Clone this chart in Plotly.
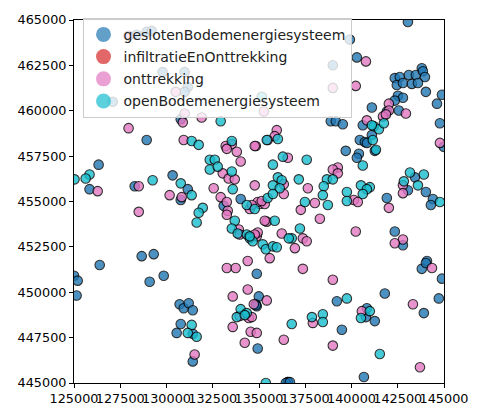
import plotly.graph_objects as go

categories = ["geslotenBodemenergiesysteem", "infiltratieEnOnttrekking", "onttrekking", "openBodemenergiesysteem"]
colors = ["#1f77b4", "#d62728", "#e377c2", "#17becf"]

gesloten_x = [128390, 128930, 129200, 129790, 130980, 131150, 130980, 127090, 139910, 140290, 138990,
              130770, 128930, 143050, 142340, 142610, 143100, 143480, 143800, 143860, 143970, 142450,
              142780, 143260, 143590, 144020, 144890, 144620, 142510, 142780, 142340, 141100, 141910,
              142560, 138880, 139150, 139530, 140610, 144780, 141100, 140450, 140720, 140830, 139690,
              140400, 140290, 141260, 144990, 141910, 143430, 143050, 144020, 144400, 144290, 142340,
              142780, 144080, 143800, 144020, 144890, 144720, 143910, 141800, 140830, 140780, 141260,
              139480, 139210, 140670,
              126330, 125840, 128280, 130330, 131150, 130770, 126390, 128660, 129310, 125000, 125200,
              125140, 129090, 129850, 130710, 130930, 131200, 131420, 130770, 130550, 131420, 131420,
              134010, 133090, 134880, 134990, 134830, 134880, 134930, 136560, 136450, 136670, 134830]
gesloten_y = [464190, 464350, 464400, 462130, 462130, 461310, 461040, 460500, 463920, 462940, 462510,
              459530, 458390, 464890, 461800, 461860, 461970, 461970, 462340, 462180, 461860, 461420,
              461530, 461480, 461530, 461040, 460880, 460390, 460830, 460720, 460560, 460180, 459960,
              460010, 459420, 459420, 459260, 459200, 459310, 458660, 458390, 458280, 458230, 457790,
              457630, 457410, 457790, 458010, 455190, 456330, 455620, 455520, 455140, 454810, 453350,
              452590, 451720, 451290, 451610, 450750, 449660, 448850, 449930, 449120, 448630, 448410,
              447930, 449500, 445330,
              457030, 455680, 455840, 456440, 455680, 455080, 451500, 451990, 452100, 450910, 450640,
              449820, 450580, 450910, 449340, 449120, 449390, 449010, 448250, 447760, 447710, 446190,
              455140, 454760, 451020, 449770, 449340, 449230, 446900, 445050, 445000, 445050, 449280]

infiltratie_x = [136560]
infiltratie_y = [445050]

onttrekking_x = [127950, 130500, 130980, 140780, 138990, 140230, 135260, 130880, 131900, 127950, 142020,
                 142020, 142940, 141700, 141860, 140830, 135960, 135850, 135470, 134830, 144780, 130930,
                 133530, 133200, 133260, 133800, 134770, 134010, 133040, 133360, 133690, 132550, 132930,
                 133260, 133310, 133260, 134500, 135040, 135310, 134770, 134930, 135420, 133910, 134880,
                 134930, 126280, 128500, 130170, 130820, 128500, 136560, 139260, 138990, 139260, 137640,
                 136340, 136340, 140130, 140340, 138020, 137260, 138290, 135310, 134770, 134610, 135150,
                 136230, 137370, 137580, 136940, 135580, 137370, 140230, 142020, 142780, 142780, 142780,
                 142340, 144350, 143320, 143700, 134390, 133260, 133740, 134390, 133580, 134720, 135420,
                 133960, 134450, 133580, 134550, 134880, 134230, 131520, 138990, 140560, 137910, 136340,
                 138990, 134610, 133960]
onttrekking_y = [464130, 461040, 459850, 462720, 461260, 461370, 459960, 459360, 459630, 459040, 460390,
                 460010, 459850, 459690, 459800, 459470, 458930, 458600, 458390, 458060, 458230, 458390,
                 458170, 458060, 457900, 457740, 458060, 457200, 456550, 456270, 456220, 455730, 455240,
                 454970, 454490, 454270, 454590, 454860, 454860, 455890, 454970, 453890, 453460, 453080,
                 453290, 455570, 455840, 455350, 455240, 454430, 457410, 456870, 456760, 456550, 455730,
                 455950, 455410, 455080, 454970, 454920, 454540, 454050, 453940, 453180, 454810, 455030,
                 453240, 452970, 452810, 452430, 451880, 451290, 453350, 454650, 455890, 455460, 452910,
                 452700, 451340, 449340, 445870, 451720, 451340, 451340, 450150, 449770, 449340, 449550,
                 448690, 448580, 448090, 447820, 447760, 447220, 446570, 450690, 448960, 448310, 447380,
                 447060, 448630, 453180]

open_x = [135150, 132930, 141210, 141480, 141750, 141100, 136020, 141150, 141320, 140610, 131360, 131740,
          133530, 135420, 132340, 132610, 132340, 132770, 133530, 133580, 134340, 134770, 135470, 133690,
          133530, 133850, 134340, 134500, 134660, 125840, 125630, 125030, 129250, 130770, 131360, 131960,
          131740, 131630, 136290, 137580, 135750, 136020, 136230, 135750, 136120, 135750, 137150, 138670,
          138990, 138500, 138450, 139750, 139750, 140510, 140990, 140830, 140610, 137480, 138720, 137210,
          135850, 136770, 136610, 135200, 135370, 135750, 135960, 134500, 143160, 143910, 142830, 143590,
          144780, 134010, 134340, 133800, 134230, 131360, 131150, 131630, 139750, 137860, 138450, 138450,
          136770, 140990, 140510, 141530, 135370]
open_y = [460770, 459420, 459150, 458980, 459310, 459200, 458440, 458390, 457850, 456980, 458330, 458120,
          458330, 458390, 457300, 457300, 456760, 456920, 456650, 455680, 454810, 454590, 455190, 453940,
          453510, 453240, 453180, 452970, 452810, 456490, 456270, 456220, 456170, 456000, 455350, 454650,
          454380, 453840, 457470, 457300, 457030, 456330, 456170, 455890, 455730, 455410, 456220, 456220,
          456220, 455840, 455350, 455520, 455030, 455890, 455790, 455680, 455410, 454970, 454810, 453510,
          453940, 452970, 452970, 452640, 452370, 452530, 452480, 453080, 456600, 456490, 456110, 455890,
          454970, 449070, 448850, 448630, 448740, 448200, 447760, 447550, 449660, 448630, 448790, 448360,
          448250, 448960, 448580, 446600, 445000]

x_ticks = [125000, 127500, 130000, 132500, 135000, 137500, 140000, 142500, 145000]
y_ticks = [445000, 447500, 450000, 452500, 455000, 457500, 460000, 462500, 465000]

FONT = "DejaVu Sans"
series = [
    (infiltratie_x, infiltratie_y, colors[1]),
    (gesloten_x, gesloten_y, colors[0]),
    (onttrekking_x, onttrekking_y, colors[2]),
    (open_x, open_y, colors[3]),
]

fig = go.Figure()
for xs, ys, c in series:
    fig.add_trace(go.Scatter(
        x=xs, y=ys, mode="markers", showlegend=False, hoverinfo="skip",
        marker=dict(size=9.5, color=c, opacity=0.8, line=dict(color="black", width=1.1)),
    ))

for i, (name, c) in enumerate(zip(categories, colors)):
    fig.add_trace(go.Scatter(
        x=[None], y=[None], mode="markers", name=name, legendgroup=f"g{i}",
        marker=dict(size=15, color=c, opacity=0.7, line=dict(width=0)),
    ))

axis_common = dict(
    showgrid=False, zeroline=False, showline=True, linecolor="black", linewidth=1,
    mirror=True, ticks="outside", ticklen=4, tickwidth=1, tickcolor="black",
    tickfont=dict(family=FONT, size=12.8, color="black"), tickangle=0,
)

fig.update_layout(
    width=480, height=418,
    margin=dict(l=74, r=36, t=15, b=34),
    paper_bgcolor="white", plot_bgcolor="white",
    font=dict(family=FONT, color="black"),
    xaxis=dict(range=[125000, 145000], tickvals=x_ticks, ticktext=[str(v) for v in x_ticks], **axis_common),
    yaxis=dict(range=[445000, 465000], tickvals=y_ticks, ticktext=[str(v) for v in y_ticks], **axis_common),
    legend=dict(
        x=0.023, y=1.006, xanchor="left", yanchor="top",
        bgcolor="rgba(255,255,255,0.8)", bordercolor="#cccccc", borderwidth=1,
        font=dict(family=FONT, size=14, color="#222222"),
        itemsizing="trace", tracegroupgap=1,
    ),
)

fig.write_html("out.html")
